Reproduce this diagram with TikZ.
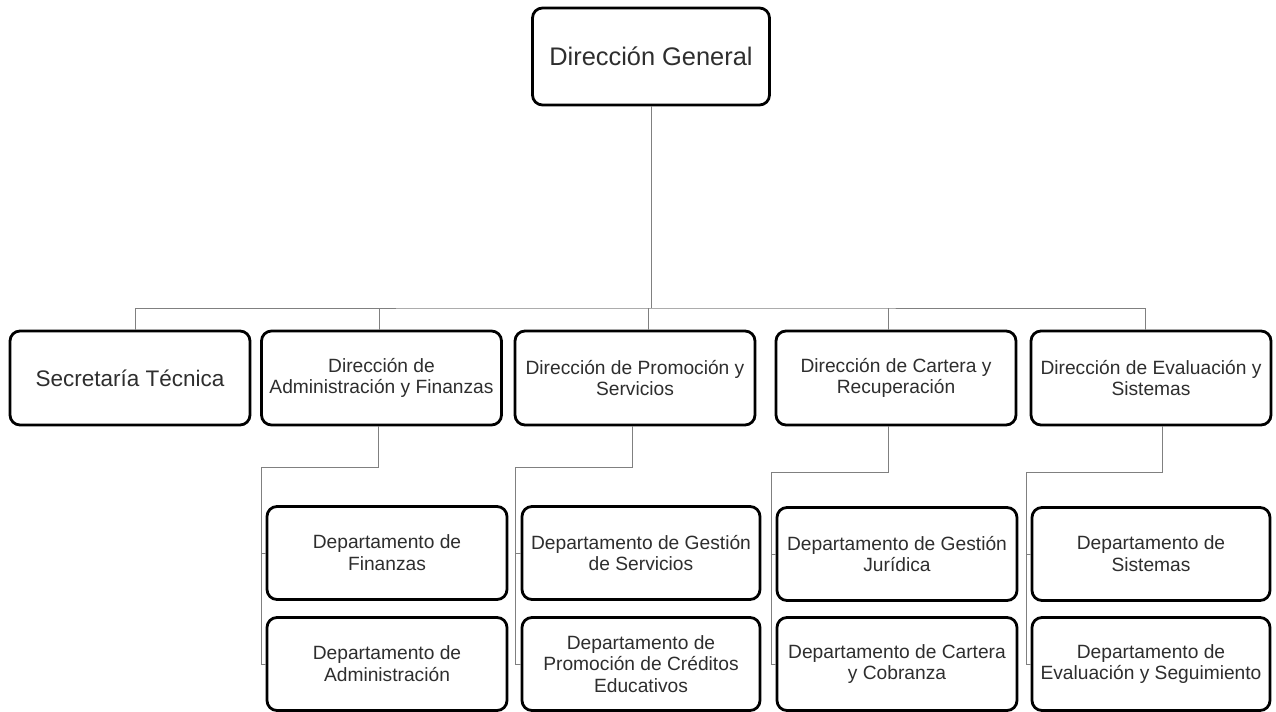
\documentclass[tikz,border=0pt]{standalone}
\usepackage{fontspec}
\setmainfont{Liberation Sans}
\usetikzlibrary{calc}

\tikzset{
  box/.style={draw=black, line width=1.4pt, rounded corners=5pt, fill=white,
    align=center, text=black!82, minimum width=120pt, minimum height=46.5pt,
    inner sep=2pt, font=\fontsize{9.6}{10.9}\selectfont},
  conn/.style={draw=black!50, line width=0.5pt}
}

\begin{document}
\begin{tikzpicture}[x=0.5pt,y=-0.5pt]
\useasboundingbox (0,0) rectangle (1276,712);
% top
\node[box, minimum width=118.5pt, minimum height=48.5pt, font=\fontsize{12.7}{14}\selectfont] (dg) at (651,56.5) {Dirección General};
% second level
\node[box, minimum height=47pt, font=\fontsize{11.25}{13}\selectfont] (st) at (130,378) {Secretaría Técnica};
\node[box, minimum height=47pt] (daf) at (381.5,378) {Dirección de\\Administración y Finanzas};
\node[box, minimum height=47pt] (dps) at (635,378) {Dirección de Promoción y\\Servicios};
\node[box, minimum height=47pt] (dcr) at (896,378) {Dirección de Cartera y\\Recuperación};
\node[box, minimum height=47pt] (des) at (1151,378) {Dirección de Evaluación y\\Sistemas};
% departments
\node[box] (fin) at (387,553) {Departamento de\\Finanzas};
\node[box] (adm) at (387,664) {Departamento de\\Administración};
\node[box, minimum width=119pt] (dgs) at (641,553) {Departamento de Gestión\\de Servicios};
\node[box, minimum width=119pt] (dpc) at (641,664) {Departamento de\\Promoción de Créditos\\Educativos};
\node[box] (dgj) at (897,554) {Departamento de Gestión\\Jurídica};
\node[box] (dcc) at (897,664) {Departamento de Cartera\\y Cobranza};
\node[box, minimum width=119pt] (dsi) at (1151,554) {Departamento de\\Sistemas};
\node[box, minimum width=119pt] (dse) at (1151,664) {Departamento de\\Evaluación y Seguimiento};

% bus under the top box
\coordinate (bus) at (651,308);
\draw[conn] (dg.south) -- (bus);
\draw[conn] ([xshift=2.5pt]st.north) |- (bus) -| ([xshift=-3pt]des.north);
\draw[conn] ([xshift=-1.25pt]daf.north) -- ([xshift=-1.25pt]daf.north |- bus);
\draw[conn] ([xshift=6.5pt]dps.north) -- ([xshift=6.5pt]dps.north |- bus);
\draw[conn] ([xshift=-4pt]dcr.north) -- ([xshift=-4pt]dcr.north |- bus);

% spines to the departments
\coordinate (fa) at (261,467);
\coordinate (pa) at (515,467);
\coordinate (ca) at (771,472);
\coordinate (ea) at (1026,472);
\draw[conn] ([xshift=-1.75pt]daf.south) |- (fa) |- (fin.west);
\draw[conn] (fa) |- (adm.west);
\draw[conn] ([xshift=-1.5pt]dps.south) |- (pa) |- (dgs.west);
\draw[conn] (pa) |- (dpc.west);
\draw[conn] ([xshift=-4pt]dcr.south) |- (ca) |- (dgj.west);
\draw[conn] (ca) |- (dcc.west);
\draw[conn] ([xshift=5.5pt]des.south) |- (ea) |- (dsi.west);
\draw[conn] (ea) |- (dse.west);
\end{tikzpicture}
\end{document}
